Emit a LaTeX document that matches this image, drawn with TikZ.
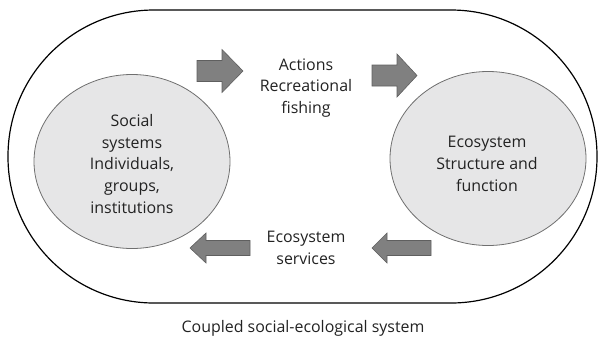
\documentclass[tikz,border=0pt]{standalone}
\usepackage{fontspec}
\setmainfont{Open Sans}
\usetikzlibrary{shapes.geometric}
\definecolor{ellfill}{HTML}{E6E6E7}
\definecolor{ellline}{HTML}{6F6F6F}
\definecolor{arrfill}{HTML}{808080}
\definecolor{arrline}{HTML}{5F5F5F}
\definecolor{inkgray}{HTML}{222222}
\tikzset{
 sysellipse/.style={ellipse,draw=ellline,fill=ellfill,line width=0.8pt,minimum width=196bp,minimum height=174bp,inner sep=0pt},
 bodytext/.style={align=center,text=inkgray,font=\fontsize{16}{22}\selectfont,inner sep=0pt},
 blockarrow/.style={fill=arrfill,draw=arrline,line width=0.6pt,line join=miter},
}
\begin{document}
\begin{tikzpicture}[x=1bp,y=-1bp]
 \useasboundingbox (0,0) rectangle (599,339);
 \draw[line width=1.2pt,rounded corners=146bp] (8,10) rectangle (597,303); %coupled system
 \node[sysellipse] (social) at (132,161.5) {}; %social systems
 \node[sysellipse] (eco) at (488,158.5) {}; %ecosystem
 \node[bodytext] (socialtext) at (132,164) {Social\\systems\\Individuals,\\groups,\\institutions};
 \node[bodytext] (ecotext) at (487,163.5) {Ecosystem\\Structure and\\function};
 \node[bodytext] (actions) at (306,88) {Actions\\Recreational\\fishing};
 \node[bodytext] (services) at (306,248) {Ecosystem\\services};
 \node[bodytext] (caption) at (303,328) {Coupled social-ecological system};
 \draw[blockarrow] (197,60.5)--(222,60.5)--(222,49.5)--(243,71)--(222,92.5)--(222,81.5)--(197,81.5)--cycle; %to actions
 \draw[blockarrow] (372,65)--(397,65)--(397,54)--(417,75.5)--(397,97)--(397,86)--(372,86)--cycle; %to ecosystem
 \draw[blockarrow] (250,240.5)--(206,240.5)--(206,233)--(190,248)--(206,263)--(206,255.5)--(250,255.5)--cycle; %to social
 \draw[blockarrow] (431,240.5)--(387,240.5)--(387,233)--(372,248)--(387,263)--(387,255.5)--(431,255.5)--cycle; %to services
\end{tikzpicture}
\end{document}
